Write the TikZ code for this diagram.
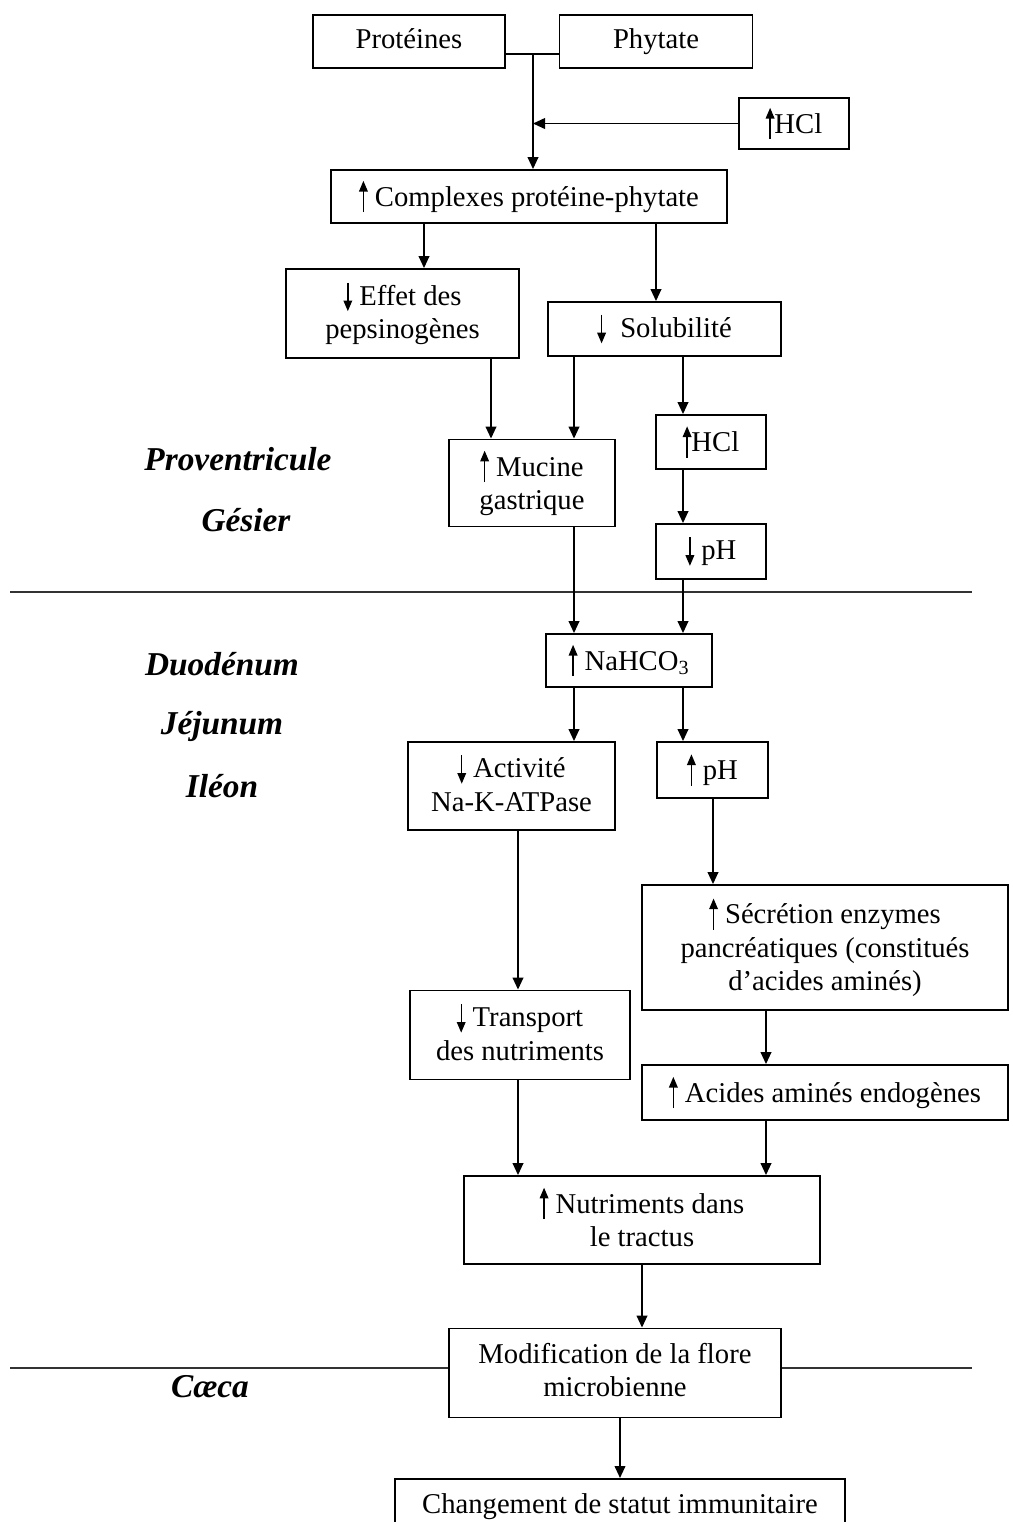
\documentclass[tikz,border=0pt]{standalone}
\usepackage{fontspec}
\setmainfont{Liberation Serif}
\usetikzlibrary{arrows.meta}

% petites fleches dans le texte
\newcommand{\hausse}{\tikz[baseline=0pt]\draw[line width=1pt,-{Triangle[length=8pt,width=6.5pt]}] (0,-4.5pt) -- (0,19pt);}
\newcommand{\baisse}{\tikz[baseline=0pt]\draw[line width=1pt,-{Triangle[length=8pt,width=6.5pt]}] (0,17pt) -- (0,-4.5pt);}
\newcommand{\etai}{\vrule height 15pt depth 5pt width 0pt}

\tikzset{
  boite/.style 2 args={draw, line width=1.4pt, align=center, inner sep=2pt,
    minimum width=#1*0.75pt, minimum height=#2*0.75pt,
    execute at begin node=\etai, execute at end node=\etai,
    font=\fontsize{21.5}{25}\selectfont},
  fleche/.style={line width=1.3pt, -{Triangle[length=9pt,width=8pt]}},
  zone/.style={font=\fontsize{25}{30}\selectfont\bfseries\itshape},
  separation/.style={line width=1.3pt, black!80}
}

\begin{document}
\begin{tikzpicture}[x=0.75pt, y=-0.75pt]
            \useasboundingbox (0,0) rectangle (1013,1522);

            % colonnes des fleches
            \coordinate (j) at (533,54);
            \coordinate (xb) at (424,0);
            \coordinate (xc) at (656,0);
            \coordinate (xd) at (491,0);
            \coordinate (xe) at (574,0);
            \coordinate (xf) at (683,0);
            \coordinate (xg) at (713,0);
            \coordinate (xh) at (518,0);
            \coordinate (xi) at (766,0);
            \coordinate (xj) at (642,0);
            \coordinate (xk) at (620,0);

            % boites
            \node[boite={192}{53}] (prot) at (409,41.5) {Protéines};
            \node[boite={193}{53}] (phyt) at (656,41.5) {Phytate};
            \node[boite={110}{51}] (hcla) at (794,123.5) {\hausse HCl};
            \node[boite={396}{53}] (compl) at (529,196.5) {\hausse\ Complexes protéine-phytate};
            \node[boite={233}{89}] (effet) at (402.5,313.5) {\baisse\ Effet des\\pepsinogènes};
            \node[boite={233}{54}] (solub) at (664.5,329) {\baisse\ \ Solubilité};
            \node[boite={166}{87}] (mucine) at (532,483) {\hausse\ Mucine\\gastrique};
            \node[boite={110}{54}] (hclb) at (711,442) {\hausse HCl};
            \node[boite={110}{55}] (pha) at (711,551.5) {\baisse\ pH};
            \node[boite={166}{53}] (nahco) at (629,660.5) {\hausse\ NaHCO\textsubscript{3}};
            \node[boite={207}{88}] (activ) at (511.5,786) {\baisse\ Activité\\Na-K-ATPase};
            \node[boite={111}{56}] (phb) at (712.5,770) {\hausse\ pH};
            \node[boite={366}{125}] (secr) at (825,947.5) {\hausse\ Sécrétion enzymes\\pancréatiques (constitués\\d’acides aminés)};
            \node[boite={220}{89}] (transp) at (520,1035) {\baisse\ Transport\\des nutriments};
            \node[boite={366}{55}] (acides) at (825,1092.5) {\hausse\ Acides aminés endogènes};
            \node[boite={356}{88}] (nutri) at (642,1220) {\hausse\ Nutriments dans\\le tractus};
            \node[boite={332}{89}] (modif) at (615,1373) {Modification de la flore\\microbienne};
            \node[boite={450}{80}, anchor=north, text height=24pt, text depth=40pt] (chang) at (620,1478) {Changement de statut immunitaire};

            % zones du tube digestif
            \node[zone] (prov) at (238,459) {Proventricule};
            \node[zone] (gesier) at (246,520) {Gésier};
            \node[zone] (duod) at (222,664) {Duodénum};
            \node[zone] (jejun) at (222,726) {Jéjunum};
            \node[zone] (ileon) at (222,786) {Iléon};
            \node[zone] (caeca) at (210,1387) {Cæca};

            \coordinate (sa) at (10,592);
            \coordinate (sb) at (972,592);
            \coordinate (sc) at (10,1368);
            \coordinate (sd) at (972,1368);
            \draw[separation] (sa) -- (sb);
            \draw[separation] (sc) -- (modif.west |- sc);
            \draw[separation] (modif.east |- sd) -- (sd);

            % liaisons
            \draw[line width=1.3pt] (prot.east |- j) -- (phyt.west |- j);
            \draw[fleche] (j) -- (compl.north -| j);
            \draw[fleche] (hcla.west) -- (hcla.west -| j);
            \draw[fleche] (compl.south -| xb) -- (effet.north -| xb);
            \draw[fleche] (compl.south -| xc) -- (solub.north -| xc);
            \draw[fleche] (effet.south -| xd) -- (mucine.north -| xd);
            \draw[fleche] (solub.south -| xe) -- (mucine.north -| xe);
            \draw[fleche] (solub.south -| xf) -- (hclb.north -| xf);
            \draw[fleche] (hclb.south -| xf) -- (pha.north -| xf);
            \draw[fleche] (mucine.south -| xe) -- (nahco.north -| xe);
            \draw[fleche] (pha.south -| xf) -- (nahco.north -| xf);
            \draw[fleche] (nahco.south -| xe) -- (activ.north -| xe);
            \draw[fleche] (nahco.south -| xf) -- (phb.north -| xf);
            \draw[fleche] (phb.south -| xg) -- (secr.north -| xg);
            \draw[fleche] (activ.south -| xh) -- (transp.north -| xh);
            \draw[fleche] (secr.south -| xi) -- (acides.north -| xi);
            \draw[fleche] (transp.south -| xh) -- (nutri.north -| xh);
            \draw[fleche] (acides.south -| xi) -- (nutri.north -| xi);
            \draw[fleche] (nutri.south -| xj) -- (modif.north -| xj);
            \draw[fleche] (modif.south -| xk) -- (chang.north -| xk);
\end{tikzpicture}
\end{document}
